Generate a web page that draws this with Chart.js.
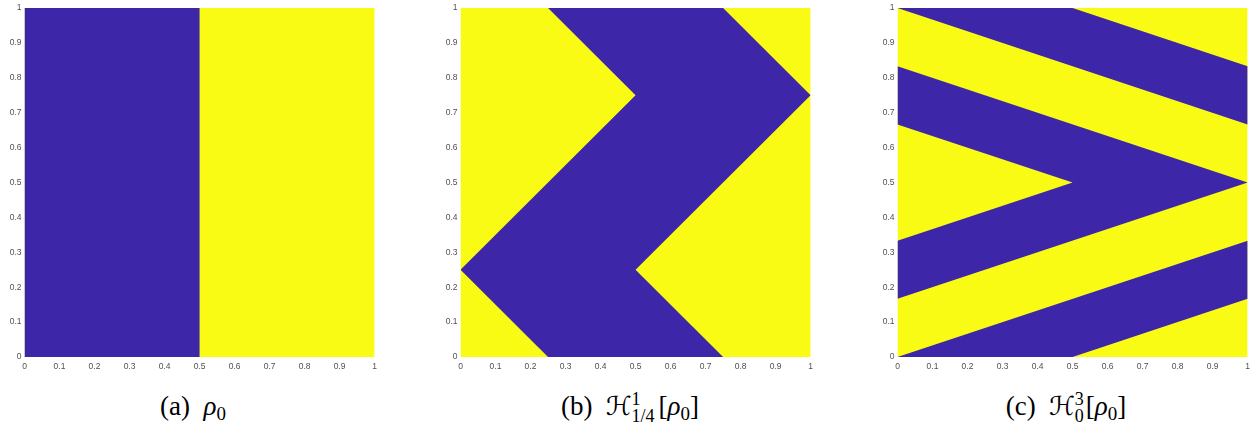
<!DOCTYPE html>
<html>
<head>
<meta charset="utf-8">
<script src="https://cdn.jsdelivr.net/npm/chart.js@4/dist/chart.umd.min.js"></script>
<style>
  body { margin: 0; background: #fff; width: 1251px; height: 431px; position: relative; overflow: hidden; }
  canvas.panel { position: absolute; top: 0; }
  .cap { position: absolute; top: 393px; font-family: "Liberation Serif", "DejaVu Serif", serif; font-size: 27px; line-height: 26px; transform: translateX(-50%); white-space: nowrap; color: #000; }
  .cap i { font-style: italic; }
  .cap sub { font-size: 19px; vertical-align: -5px; line-height: 0; }
  .stk { display: inline-block; position: relative; height: 1px; vertical-align: baseline; }
  .stk .sp { position: absolute; left: 0; top: -24px; font-size: 18px; line-height: 18px; }
  .stk .sb { position: absolute; left: 0; top: -7px; font-size: 18px; line-height: 18px; }
  .scr { font-family: "DejaVu Serif", "DejaVu Sans", serif; font-size: 26px; }
</style>
</head>
<body>
<canvas id="ca" class="panel" width="382" height="380" style="left:0px"></canvas>
<canvas id="cb" class="panel" width="382" height="380" style="left:436px"></canvas>
<canvas id="cc" class="panel" width="382" height="380" style="left:873px"></canvas>

<div class="cap" style="left:193px">(a) &nbsp;<i>ρ</i><sub>0</sub></div>
<div class="cap" style="left:630px">(b) &nbsp;<span class="scr">ℋ</span><span class="stk" style="width:27px"><span class="sp">1</span><span class="sb">1/4</span></span>[<i>ρ</i><sub>0</sub>]</div>
<div class="cap" style="left:1066px">(c) &nbsp;<span class="scr">ℋ</span><span class="stk" style="width:11px"><span class="sp">3</span><span class="sb">0</span></span>[<i>ρ</i><sub>0</sub>]</div>

<script>
// axis ticks
const tickValues = [0, 0.1, 0.2, 0.3, 0.4, 0.5, 0.6, 0.7, 0.8, 0.9, 1];
const tickLabels = ["0", "0.1", "0.2", "0.3", "0.4", "0.5", "0.6", "0.7", "0.8", "0.9", "1"];

// unit square (yellow background region)
const squareX = [0, 1, 1, 0];
const squareY = [0, 0, 1, 1];

// (a) rho_0 : left half blue
const aBlueX = [0, 0.5, 0.5, 0];
const aBlueY = [0, 0, 1, 1];

// (b) zig-zag band
const bBlueX = [0.25, 0.75, 0.5, 1, 0.75, 0.25, 0.5, 0];
const bBlueY = [0, 0, 0.25, 0.75, 1, 1, 0.75, 0.25];

// (c) three bands
const cTopX = [0, 0.5, 1, 1];
const cTopY = [1, 1, 0.8333, 0.6667];
const cMidX = [0, 1, 0, 0, 0.5, 0];
const cMidY = [0.8333, 0.5, 0.1667, 0.3333, 0.5, 0.6667];
const cLowX = [0, 1, 1, 0.5];
const cLowY = [0, 0.3333, 0.1667, 0];

const blue = "#3e26a8";
const yellow = "#f9fb15";

function pts(xs, ys) {
  return xs.map((x, i) => ({ x: x, y: ys[i] }));
}

function poly(xs, ys, color, order) {
  return {
    type: "line",
    data: pts(xs, ys),
    showLine: true,
    fill: "shape",
    backgroundColor: color,
    borderColor: "rgba(0,0,0,0)",
    borderWidth: 0,
    pointRadius: 0,
    tension: 0,
    order: order
  };
}

function axis(isX) {
  return {
    type: "linear",
    min: 0,
    max: 1,
    grid: { display: false, drawTicks: false },
    border: { display: false },
    afterBuildTicks: (s) => { s.ticks = tickValues.map((v) => ({ value: v })); },
    afterFit: (s) => { if (isX) s.height = 23; else s.width = 24.5; },
    ticks: {
      autoSkip: false,
      maxRotation: 0,
      padding: isX ? 5 : 3,
      color: "#505050",
      font: { family: "Liberation Sans, Arial, sans-serif", size: 8.5 },
      callback: (v, i) => tickLabels[i]
    }
  };
}

function makePanel(id, blueSets) {
  const datasets = blueSets.map((b) => poly(b[0], b[1], blue, 1));
  datasets.push(poly(squareX, squareY, yellow, 5));
  new Chart(document.getElementById(id), {
    type: "scatter",
    data: { datasets: datasets },
    options: {
      responsive: false,
      animation: false,
      layout: { padding: { top: 5.5, right: 3.5, left: 0, bottom: 0 } },
      plugins: { legend: { display: false }, tooltip: { enabled: false } },
      scales: { x: axis(true), y: axis(false) }
    }
  });
}

makePanel("ca", [[aBlueX, aBlueY]]);
makePanel("cb", [[bBlueX, bBlueY]]);
makePanel("cc", [[cTopX, cTopY], [cMidX, cMidY], [cLowX, cLowY]]);
</script>
</body>
</html>
